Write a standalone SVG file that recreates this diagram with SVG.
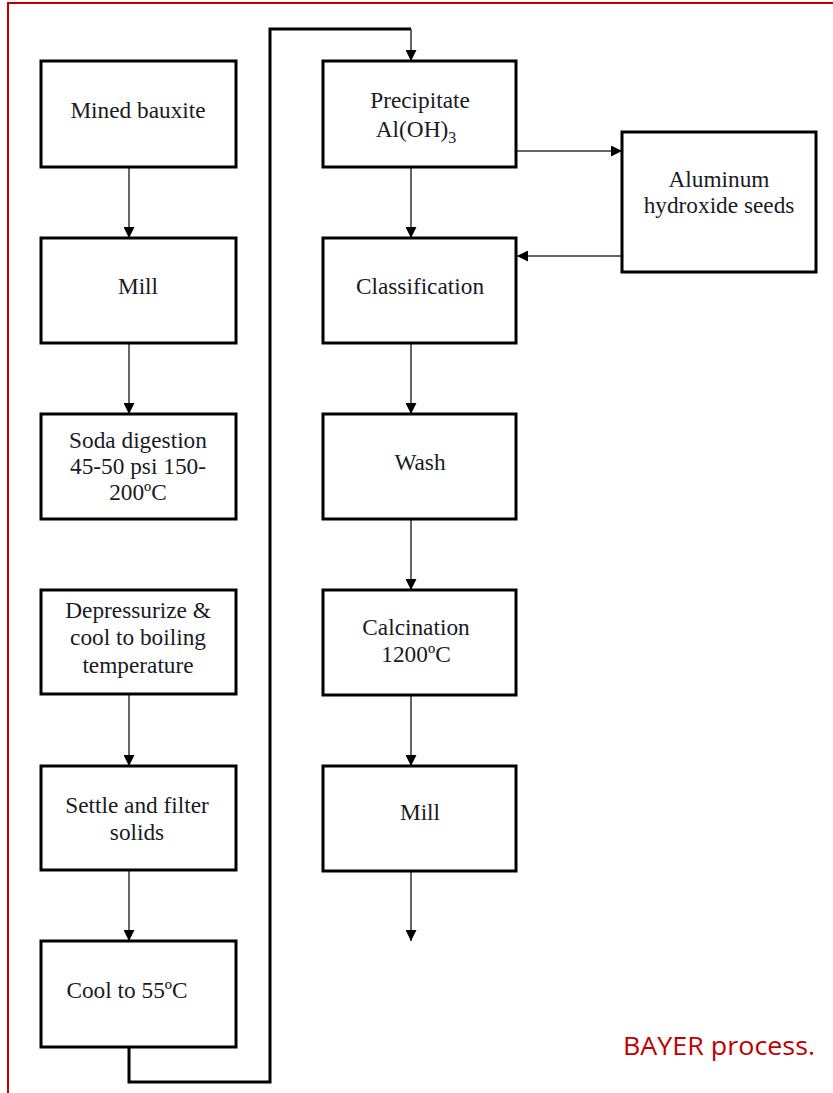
<svg xmlns="http://www.w3.org/2000/svg" width="833" height="1093" viewBox="0 0 833 1093">
<defs>
<style>
.box{fill:#fff;stroke:#000;stroke-width:3}
.t{font-family:"Liberation Serif","Times New Roman",serif;font-size:23.3px;fill:#1a1a24;text-anchor:middle}
.c{fill:none;stroke:#333;stroke-width:1.5}
.loop{fill:none;stroke:#000;stroke-width:3}
</style>
<marker id="ah" markerWidth="11" markerHeight="11" refX="11" refY="5.5" orient="auto" markerUnits="userSpaceOnUse">
<path d="M0,0 L11,5.5 L0,11 Z" fill="#000"/>
</marker>
</defs>
<rect width="833" height="1093" fill="#fff"/>
<path d="M8,1093 V3 H833" fill="none" stroke="#c00000" stroke-width="2"/>

<g id="connectors">
<line class="c" x1="129" y1="168" x2="129" y2="238" marker-end="url(#ah)"/>
<line class="c" x1="129" y1="344" x2="129" y2="414" marker-end="url(#ah)"/>
<line class="c" x1="129" y1="695" x2="129" y2="766" marker-end="url(#ah)"/>
<line class="c" x1="129" y1="871" x2="129" y2="941" marker-end="url(#ah)"/>
<line class="c" x1="411" y1="168" x2="411" y2="238" marker-end="url(#ah)"/>
<line class="c" x1="411" y1="344" x2="411" y2="414" marker-end="url(#ah)"/>
<line class="c" x1="411" y1="520" x2="411" y2="590" marker-end="url(#ah)"/>
<line class="c" x1="411" y1="696" x2="411" y2="766" marker-end="url(#ah)"/>
<line class="c" x1="411" y1="872" x2="411" y2="941" marker-end="url(#ah)"/>
<line class="c" x1="517" y1="151" x2="622" y2="151" marker-end="url(#ah)"/>
<line class="c" x1="621" y1="256" x2="517" y2="256" stroke="#888" marker-end="url(#ah)"/>
<path class="loop" d="M129,1048 V1082 H270 V29 H411"/>
<line class="c" x1="411" y1="29" x2="411" y2="61" marker-end="url(#ah)"/>
</g>

<g id="mined-bauxite"><rect class="box" x="41" y="61" width="195" height="106"/><text class="t" x="138" y="118">Mined bauxite</text></g>
<g id="mill-1"><rect class="box" x="41" y="238" width="195" height="105"/><text class="t" x="138" y="294">Mill</text></g>
<g id="soda-digestion"><rect class="box" x="41" y="414" width="195" height="105"/><text class="t" x="138" y="448">Soda digestion</text><text class="t" x="138" y="474">45-50 psi 150-</text><text class="t" x="138" y="500">200ºC</text></g>
<g id="depressurize"><rect class="box" x="41" y="590" width="195" height="104"/><text class="t" x="138" y="618">Depressurize &amp;</text><text class="t" x="138" y="645">cool to boiling</text><text class="t" x="138" y="673">temperature</text></g>
<g id="settle"><rect class="box" x="41" y="766" width="195" height="104"/><text class="t" x="137" y="813">Settle and filter</text><text class="t" x="137" y="840">solids</text></g>
<g id="cool"><rect class="box" x="41" y="941" width="195" height="106"/><text class="t" x="127" y="998">Cool to 55ºC</text></g>

<g id="precipitate"><rect class="box" x="323" y="61" width="193" height="106"/><text class="t" x="420" y="108">Precipitate</text><text class="t" x="416" y="137">Al(OH)<tspan font-size="16" dy="6">3</tspan></text></g>
<g id="classification"><rect class="box" x="323" y="238" width="193" height="105"/><text class="t" x="420" y="294">Classification</text></g>
<g id="wash"><rect class="box" x="323" y="414" width="193" height="105"/><text class="t" x="420" y="470">Wash</text></g>
<g id="calcination"><rect class="box" x="323" y="590" width="193" height="105"/><text class="t" x="416" y="635">Calcination</text><text class="t" x="416" y="662">1200ºC</text></g>
<g id="mill-2"><rect class="box" x="323" y="766" width="193" height="105"/><text class="t" x="420" y="820">Mill</text></g>
<g id="aluminum-seeds"><rect class="box" x="622" y="132" width="194" height="140"/><text class="t" x="719" y="187">Aluminum</text><text class="t" x="719" y="213">hydroxide seeds</text></g>

<text x="623" y="1055" font-family="'Open Sans','Liberation Sans',sans-serif" font-size="26" fill="#c00000" textLength="192" lengthAdjust="spacingAndGlyphs">BAYER process.</text>
</svg>
